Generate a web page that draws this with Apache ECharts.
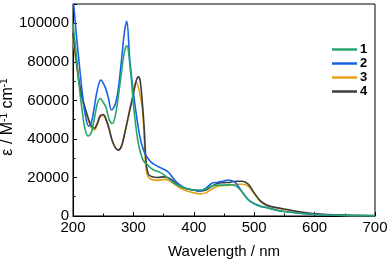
<!DOCTYPE html>
<html><head><meta charset="utf-8">
<script src="https://cdn.jsdelivr.net/npm/echarts@6/dist/echarts.min.js"></script>
<style>html,body{margin:0;padding:0;background:#fff}#c{width:390px;height:267px}</style>
</head><body><div id="c"></div>
<script>
const seriesNames = ['1','2','3','4'];
const colors = ['#27a56c','#1763e6','#e6a317','#3d3d3d'];

const wl1 = [200,205,210,215,220,225,230,235,240,245,250,255,260,265,270,275,280,285,289,295,301,308,316,325,333,345,352,360,370,380,390,400,410,420,430,440,450,460,470,480,490,500,510,520,530,540,550,575,600,650,700];
const eps1 = [100000,85000,68000,55000,45000,41500,43000,50000,58000,61000,59000,56000,50000,48000,52000,62000,74000,85000,88500,76000,55000,38000,29000,26000,24000,22500,21000,19000,16500,15000,14000,13500,13500,14000,15500,16000,16000,16300,15500,12500,8500,6300,5000,4300,3500,2800,2300,1400,800,300,100];

const wl2 = [200,205,210,215,220,226,230,235,240,246,253,258,264,270,275,280,285,289,294,300,308,313,319,325,333,345,355,360,370,380,390,400,410,420,430,440,450,457,465,470,480,490,500,510,520,530,540,550,575,600,650,700];
const eps2 = [114000,96000,80000,65000,53000,46600,48000,56000,65000,70500,67000,62000,55000,58000,66000,80000,95000,101000,81000,64000,46000,38000,32500,29500,27000,25000,23500,22000,18000,15500,14000,13500,13000,14500,17000,17500,18200,18700,18000,17000,12500,8500,6500,5200,4500,3600,2800,2300,1400,800,300,100];

const wl3 = [200,205,210,215,220,225,230,235,240,245,250,255,260,265,270,275,280,285,294,300,304,308,312,315,318,321,325,330,340,350,360,370,380,390,400,410,420,430,440,450,460,470,480,490,500,510,520,530,540,550,575,600,650,700];
const eps3 = [92000,80000,69000,61000,55000,50000,46000,44500,47000,51500,52000,49500,44500,39000,35500,34300,36000,42000,55000,63000,69600,67000,61000,55000,40000,24000,20000,19000,18500,19000,18300,16000,14000,12800,12000,11500,12000,14000,15500,15800,16000,16500,16500,15500,11500,7500,5500,4500,3900,3400,2000,1000,300,100];

const wl4 = [200,205,210,215,220,225,230,235,240,245,250,255,260,265,270,275,280,285,294,300,305,308,311,315,318,321,325,330,340,350,360,370,380,390,400,410,420,430,440,450,460,470,480,490,500,510,520,530,540,550,575,600,650,700];
const eps4 = [95000,82000,70000,62000,56000,51000,47000,45500,48000,52000,52700,50000,45000,39000,35500,34200,36000,42000,55000,63600,70500,72200,70500,58000,45000,28000,21500,20500,20000,20300,19500,17000,15000,14000,13500,13000,13500,15500,17000,17300,17500,18000,18000,16500,12000,8000,5800,4800,4200,3600,2200,1100,400,200];

const xTicks = [200,300,400,500,600,700];
const yTicks = [0,20000,40000,60000,80000,100000];

const allWl = [wl1, wl2, wl3, wl4];
const allEps = [eps1, eps2, eps3, eps4];

const chart = echarts.init(document.getElementById('c'), null, {renderer:'canvas'});
const font = 'Liberation Sans, Arial, sans-serif';
const series = seriesNames.map((n,i)=>({
  name:n, type:'line', smooth:0.35, showSymbol:false, clip:true,
  data: allWl[i].map((x,j)=>[x, allEps[i][j]]),
  lineStyle:{color:colors[i], width:1.6}, itemStyle:{color:colors[i]},
  z: i===0?5:(i===1?4:(i===2?2:3))
}));
chart.setOption({
  animation:false,
  grid:{left:73, right:15, top:4, bottom:51, show:true, borderColor:'#000', borderWidth:1, containLabel:false, outerBoundsMode:'none'},
  legend:{orient:'vertical', left:327, top:38, itemWidth:25, itemHeight:2.5, itemGap:1, icon:'rect',
    textStyle:{fontFamily:font, fontSize:13, fontWeight:'bold', color:'#000', lineHeight:13, padding:[0,0,0,-2]},
    data: seriesNames},
  xAxis:{type:'value', min:200, max:700, interval:100,
    name:'Wavelength / nm', nameLocation:'middle', nameGap:28, nameMoveOverlap:false,
    nameTextStyle:{fontFamily:font, fontSize:15, color:'#000'},
    axisLine:{show:true, lineStyle:{color:'#000', width:1}},
    axisTick:{show:true, inside:true, length:4, lineStyle:{color:'#000'}},
    minorTick:{show:true, splitNumber:2, length:2.5, lineStyle:{color:'#000'}},
    axisLabel:{fontFamily:font, fontSize:15, color:'#000', margin:4,
      formatter:v=>xTicks.includes(v)?String(v):''},
    splitLine:{show:false}},
  yAxis:{type:'value', min:0, max:110000, interval:20000,
    name:'ε / M{s|-1} cm{s|-1}', nameLocation:'middle', nameGap:56, nameRotate:90, nameMoveOverlap:false,
    nameTextStyle:{fontFamily:font, fontSize:16, color:'#000', padding:[0,14,0,0],
      rich:{s:{fontFamily:font, fontSize:10, color:'#000', verticalAlign:'top', padding:[0,0,8,0]}}},
    axisLine:{show:true, lineStyle:{color:'#000', width:1}},
    axisTick:{show:true, inside:true, length:4, lineStyle:{color:'#000'}},
    minorTick:{show:true, splitNumber:2, length:2.5, lineStyle:{color:'#000'}},
    axisLabel:{fontFamily:font, fontSize:15, color:'#000', margin:4,
      formatter:v=>yTicks.includes(v)?String(v):''},
    splitLine:{show:false}},
  series: series
});
</script></body></html>
